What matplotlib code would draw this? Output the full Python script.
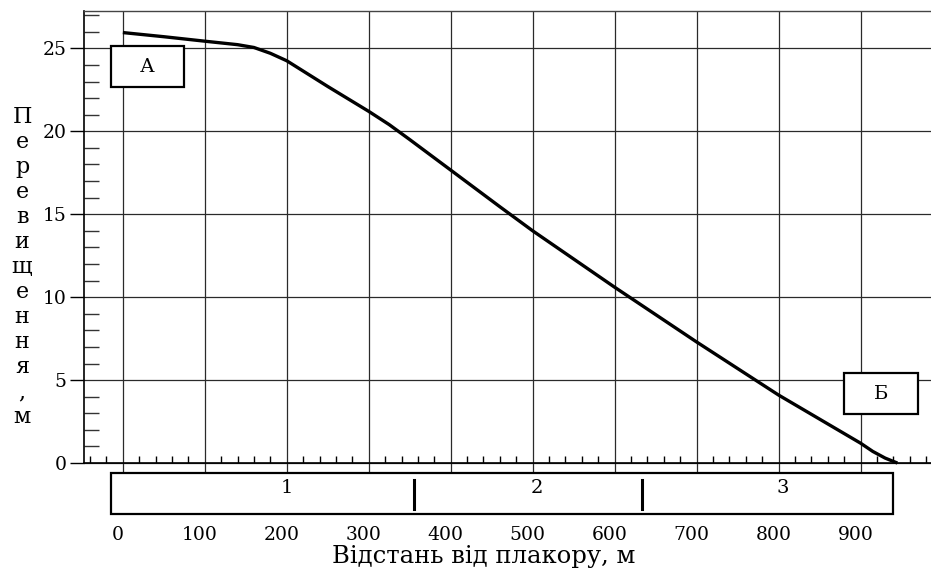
import matplotlib
matplotlib.use('Agg')
import matplotlib.pyplot as plt
import matplotlib.transforms as mtransforms
from matplotlib.patches import Rectangle
from matplotlib.ticker import MultipleLocator, FixedLocator

plt.rcParams['font.family'] = ['DejaVu Serif']

# profile: distance (m) vs elevation (m)
distance = [0, 50, 100, 140, 160, 180, 200, 250, 300, 325, 350, 400, 460, 500,
            600, 700, 750, 800, 900, 915, 930, 945]
elevation = [25.95, 25.7, 25.43, 25.22, 25.05, 24.7, 24.25, 22.7, 21.2, 20.4,
             19.5, 17.66, 15.45, 14.0, 10.6, 7.3, 5.7, 4.1, 1.2, 0.7, 0.3, 0.0]

xTicks = list(range(0, 1000, 100))
yTicks = list(range(0, 30, 5))

zoneBounds = [-15, 355, 633, 940]
zoneLabels = ['1', '2', '3']
zoneLabelX = [200, 505, 805]

pointA = 'А'
pointB = 'Б'
yLabelText = 'Перевищення,м'
xLabelText = 'Відстань від плакору, м'

W, H = 931, 569
fig = plt.figure(figsize=(W / 100, H / 100), dpi=100)
ax = fig.add_axes([83.5 / W, 1 - 473 / H, (W - 83.5) / W, (473 - 11) / H])

ax.plot(distance, elevation, color='black', linewidth=2.4,
        solid_capstyle='butt', solid_joinstyle='round', zorder=5)

ax.set_xlim(-48, 986)
ax.set_ylim(-0.6, 27.25)

ax.xaxis.set_major_locator(FixedLocator(xTicks))
ax.xaxis.set_minor_locator(MultipleLocator(20))
ax.yaxis.set_major_locator(FixedLocator(yTicks))
ax.yaxis.set_minor_locator(MultipleLocator(1))

ax.grid(True, which='major', color='#2a2a2a', linewidth=0.9)
ax.set_axisbelow(True)

ax.spines['right'].set_visible(False)
ax.spines['top'].set_color('#444444')
ax.spines['top'].set_linewidth(1.0)
ax.spines['left'].set_bounds(0, 27.25)
ax.spines['left'].set_linewidth(1.2)
ax.spines['bottom'].set_position(('data', 0))
ax.spines['bottom'].set_linewidth(1.2)

ax.tick_params(axis='x', which='major', length=0, pad=45, labelsize=13.5)
ax.tick_params(axis='x', which='minor', direction='in', length=5, width=1)
ax.tick_params(axis='y', which='major', direction='out', length=10, width=1,
               pad=2, labelsize=13.5)
ax.tick_params(axis='y', which='minor', direction='in', length=11, width=1,
               color='#333333')

# tick labels sit a little left of their gridlines in the original
shift = mtransforms.ScaledTranslation(-5 / 100, 0, fig.dpi_scale_trans)
for lbl in ax.get_xticklabels():
    lbl.set_transform(lbl.get_transform() + shift)

# zone strip under the axis
ax.add_patch(Rectangle((zoneBounds[0], -3.07), zoneBounds[-1] - zoneBounds[0], 2.47,
                       fill=False, edgecolor='black', linewidth=1.6, clip_on=False))
for b in zoneBounds[1:-1]:
    ax.plot([b, b], [-1.02, -2.77], color='black', linewidth=2.2, clip_on=False)
for lx, lab in zip(zoneLabelX, zoneLabels):
    ax.text(lx, -1.5, lab, ha='center', va='center', fontsize=14, clip_on=False)

# end point boxes
ax.add_patch(Rectangle((-14.6, 22.66), 89, 2.47, facecolor='white',
                       edgecolor='black', linewidth=1.6, zorder=6))
ax.text(30, 23.9, pointA, ha='center', va='center', fontsize=14, zorder=7)
ax.add_patch(Rectangle((880, 2.95), 90, 2.47, facecolor='white',
                       edgecolor='black', linewidth=1.6, zorder=6))
ax.text(925, 4.18, pointB, ha='center', va='center', fontsize=14, zorder=7)

# stacked y label, one letter per line
for i, ch in enumerate(yLabelText):
    fig.text(22 / W, 1 - (123 + 25 * i) / H, ch, ha='center', va='baseline',
             fontsize=16)

fig.text(484 / W, 1 - 563 / H, xLabelText, ha='center', va='baseline',
         fontsize=17.5)

fig.savefig('out.png', dpi=100)
